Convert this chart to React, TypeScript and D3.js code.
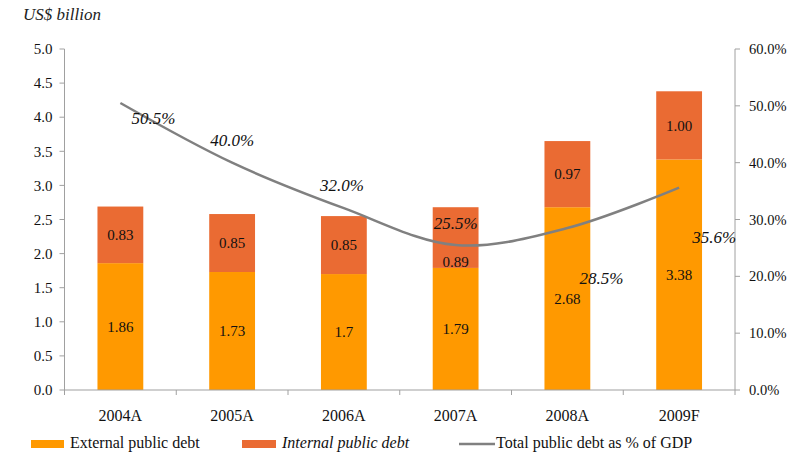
import React from "react";
import * as d3 from "d3";

const categories = ["2004A", "2005A", "2006A", "2007A", "2008A", "2009F"];
const externalDebt = [1.86, 1.73, 1.7, 1.79, 2.68, 3.38];
const internalDebt = [0.83, 0.85, 0.85, 0.89, 0.97, 1.0];
const debtPctGdp = [50.5, 40.0, 32.0, 25.5, 28.5, 35.6];
const leftTicks = [0, 0.5, 1, 1.5, 2, 2.5, 3, 3.5, 4, 4.5, 5];
const rightTicks = [0, 10, 20, 30, 40, 50, 60];

// label placement offsets (styling, not data)
const pctLabelOffsets: [number, number][] = [
  [33, 15], [0, -23], [-2, -23], [0, -22], [34, 50], [35, 49],
];
const internalLabelDy = [0, 0, 0, 24, 0, 0];

const W = 805, H = 453;
const M = { left: 64.5, right: 70, top: 49, bottom: 63 };
const FONT = "Liberation Serif, DejaVu Serif, Times New Roman, serif";
const C_EXT = "#FF9900";
const C_INT = "#EA6B33";
const C_LINE = "#808080";
const C_AXIS = "#A0A0A0";

export default function App() {
  const x = d3.scaleBand().domain(categories).range([M.left, W - M.right]).paddingInner(0.59).paddingOuter(0.295);
  const y = d3.scaleLinear().domain([0, 5]).range([H - M.bottom, M.top]);
  const y2 = d3.scaleLinear().domain([0, 60]).range([H - M.bottom, M.top]);
  const step = (W - M.right - M.left) / categories.length;
  const cx = (c: string) => (x(c) as number) + x.bandwidth() / 2;

  const line = d3
    .line<number>()
    .x((_, i) => cx(categories[i]))
    .y((d) => y2(d))
    .curve(d3.curveCatmullRom.alpha(0.5));

  const y0 = H - M.bottom;

  return (
    <svg width={W} height={H} style={{ display: "block", position: "absolute", left: 0, top: 0, background: "#fff", fontFamily: FONT }}>
      <text x={23} y={20} fontSize={17} fontStyle="italic" fill="#222">US$ billion</text>

      {/* bars */}
      {categories.map((c, i) => {
        const bx = x(c) as number;
        const e = externalDebt[i];
        const n = internalDebt[i];
        return (
          <g key={c}>
            <rect x={bx} y={y(e)} width={x.bandwidth()} height={y(0) - y(e)} fill={C_EXT} />
            <rect x={bx} y={y(e + n)} width={x.bandwidth()} height={y(e) - y(e + n)} fill={C_INT} />
            <text x={cx(c)} y={y(e / 2)} dy="0.35em" textAnchor="middle" fontSize={15} fill="#111">{String(e)}</text>
            <text x={cx(c)} y={y(e + n / 2) + internalLabelDy[i]} dy="0.35em" textAnchor="middle" fontSize={15} fill="#111">{n.toFixed(2)}</text>
          </g>
        );
      })}

      {/* left axis */}
      <line x1={M.left} x2={M.left} y1={M.top} y2={y0} stroke={C_AXIS} strokeWidth={1} />
      {leftTicks.map((t) => (
        <g key={t}>
          <line x1={M.left - 5} x2={M.left} y1={y(t)} y2={y(t)} stroke={C_AXIS} />
          <text x={M.left - 12} y={y(t)} dy="0.35em" textAnchor="end" fontSize={15} fill="#111">{t.toFixed(1)}</text>
        </g>
      ))}

      {/* right axis */}
      <line x1={W - M.right} x2={W - M.right} y1={M.top} y2={y0} stroke={C_AXIS} strokeWidth={1} />
      {rightTicks.map((t) => (
        <g key={t}>
          <line x1={W - M.right} x2={W - M.right + 5} y1={y2(t)} y2={y2(t)} stroke={C_AXIS} />
          <text x={W - M.right + 14} y={y2(t)} dy="0.35em" textAnchor="start" fontSize={14.5} fill="#111">{t.toFixed(1) + "%"}</text>
        </g>
      ))}

      {/* bottom axis */}
      <line x1={M.left} x2={W - M.right} y1={y0} y2={y0} stroke={C_AXIS} strokeWidth={1.2} />
      {d3.range(categories.length + 1).map((i) => (
        <line key={i} x1={M.left + i * step} x2={M.left + i * step} y1={y0} y2={y0 + 5} stroke={C_AXIS} />
      ))}
      {categories.map((c) => (
        <text key={c} x={cx(c)} y={421} textAnchor="middle" fontSize={16} fill="#111">{c}</text>
      ))}

      {/* line */}
      <path d={line(debtPctGdp) || ""} fill="none" stroke={C_LINE} strokeWidth={2.5} />
      {debtPctGdp.map((v, i) => (
        <text key={i} x={cx(categories[i]) + pctLabelOffsets[i][0]} y={y2(v) + pctLabelOffsets[i][1]} dy="0.35em" textAnchor="middle" fontSize={17} fontStyle="italic" fill="#111">{v.toFixed(1) + "%"}</text>
      ))}

      {/* legend */}
      <g fontSize={16} fill="#111">
        <rect x={31} y={440} width={33} height={8} fill={C_EXT} />
        <text x={70} y={448}>External public debt</text>
        <rect x={242} y={440} width={34} height={8} fill={C_INT} />
        <text x={282} y={448} fontStyle="italic">Internal public debt</text>
        <line x1={459} x2={495} y1={444} y2={444} stroke={C_LINE} strokeWidth={2.5} />
        <text x={496} y={448}>Total public debt as % of GDP</text>
      </g>
    </svg>
  );
}
